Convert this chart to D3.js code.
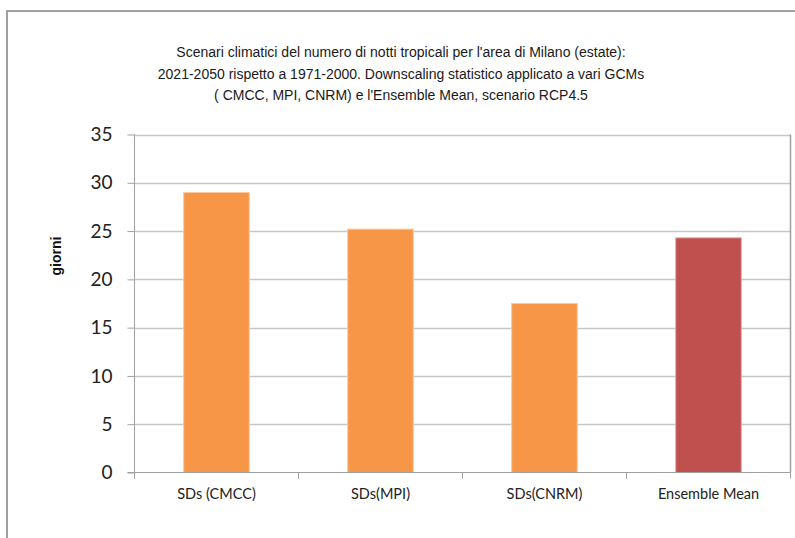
<!DOCTYPE html>
<html><head><meta charset="utf-8">
<script src="https://cdn.jsdelivr.net/npm/d3@7/dist/d3.min.js"></script>
<style>body{margin:0;background:#fff}svg{display:block}</style>
</head><body>
<script>
const categories = ["SDs (CMCC)", "SDs(MPI)", "SDs(CNRM)", "Ensemble Mean"];
const values = [29.0, 25.2, 17.5, 24.3];
const barColors = ["#F79646", "#F79646", "#F79646", "#C0504D"];
const yTicks = [0, 5, 10, 15, 20, 25, 30, 35];
const titleLines = [
  "Scenari climatici del numero di notti tropicali per l'area di Milano (estate):",
  "2021-2050 rispetto a 1971-2000. Downscaling statistico applicato a vari GCMs",
  "( CMCC, MPI, CNRM) e l'Ensemble Mean, scenario RCP4.5"
];
const yLabel = "giorni";

const W = 795, H = 538;
const svg = d3.select("body").append("svg").attr("width", W).attr("height", H);

// outer frame
svg.append("path").attr("d", `M7,${H} L7,11 L${W},11`)
  .attr("fill", "none").attr("stroke", "#a0a0a0").attr("stroke-width", 2);

const m = {left: 134.5, right: 790.5, top: 134.5, bottom: 472.5};
const x = d3.scaleBand().domain(categories).range([m.left, m.right]).paddingInner(0.6).paddingOuter(0.3);
const xb = d3.scaleBand().domain(categories).range([m.left, m.right]);
const y = d3.scaleLinear().domain([0, 35]).range([m.bottom, m.top]);

// gridlines
svg.append("g").selectAll("line").data(yTicks.filter(d => d > 0)).join("line")
  .attr("x1", m.left).attr("x2", m.right)
  .attr("y1", d => Math.round(y(d)) + 0.5).attr("y2", d => Math.round(y(d)) + 0.5)
  .attr("stroke", "#c6c6c6").attr("stroke-width", 1.3);

// right border of plot
svg.append("line").attr("x1", m.right).attr("x2", m.right).attr("y1", m.top).attr("y2", m.bottom)
  .attr("stroke", "#a0a0a0").attr("stroke-width", 1.5);

// bars
svg.append("g").selectAll("rect").data(values).join("rect")
  .attr("x", (d, i) => x(categories[i]))
  .attr("width", x.bandwidth())
  .attr("y", d => y(d))
  .attr("height", d => y(0) - y(d))
  .attr("fill", (d, i) => barColors[i])
  .attr("stroke", (d, i) => i === 3 ? "#e7a7a5" : "#fbc9a0")
  .attr("stroke-width", 1);

// y axis
const yAxis = d3.axisLeft(y).tickValues(yTicks).tickSize(7).tickPadding(15);
const gy = svg.append("g").attr("transform", `translate(${m.left},0)`).call(yAxis);
gy.select(".domain").attr("d", `M0,${m.top}V${m.bottom + 6}`).attr("stroke", "#a0a0a0");
gy.selectAll(".tick line").attr("stroke", "#a0a0a0");
gy.selectAll("text").attr("font-family", "Lato, 'Open Sans', sans-serif").attr("font-size", 19).attr("fill", "#222");

// x axis
const xAxis = d3.axisBottom(xb).tickSize(0).tickPadding(16);
const gx = svg.append("g").attr("transform", `translate(0,${m.bottom})`).call(xAxis);
gx.select(".domain").attr("d", `M${m.left - 7},0H${m.right}`).attr("stroke", "#a0a0a0");
gx.selectAll("text").attr("font-family", "Lato, 'Open Sans', sans-serif").attr("font-size", 14.5).attr("fill", "#222");
// category separators
gx.append("g").selectAll("line").data(d3.range(categories.length + 1)).join("line")
  .attr("x1", i => m.left + i * xb.bandwidth()).attr("x2", i => m.left + i * xb.bandwidth())
  .attr("y1", 0).attr("y2", 6).attr("stroke", "#a0a0a0");

// y label
svg.append("text").attr("transform", `translate(61,256) rotate(-90)`)
  .attr("text-anchor", "middle").attr("font-family", "'Liberation Sans', Arial, sans-serif")
  .attr("font-weight", "bold").attr("font-size", 14).attr("fill", "#111").text(yLabel);

// title
svg.append("g").selectAll("text").data(titleLines).join("text")
  .attr("x", 401).attr("y", (d, i) => 57 + i * 21.5)
  .attr("text-anchor", "middle")
  .attr("font-family", "'Liberation Sans Narrow', 'Liberation Sans', Arial, sans-serif")
  .attr("font-size", 14).attr("fill", "#1a1a1a")
  .text(d => d);
</script>
</body></html>
